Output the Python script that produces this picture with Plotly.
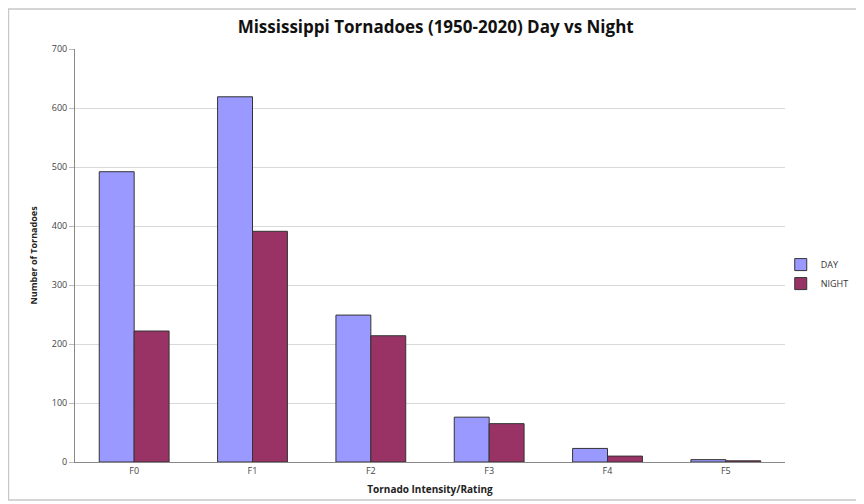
import plotly.graph_objects as go

categories = ["F0", "F1", "F2", "F3", "F4", "F5"]
day_values = [492, 619, 249, 76, 23, 4]
night_values = [222, 391, 214, 65, 10, 2]

fig = go.Figure()
fig.add_trace(go.Bar(name="DAY", x=categories, y=day_values,
                     marker=dict(color="#9999FF", line=dict(color="#333333", width=1))))
fig.add_trace(go.Bar(name="NIGHT", x=categories, y=night_values,
                     marker=dict(color="#993366", line=dict(color="#333333", width=1))))

fig.update_layout(
    width=864, height=504,
    barmode="group", bargap=0.41, bargroupgap=0,
    paper_bgcolor="white", plot_bgcolor="white",
    margin=dict(l=67, r=87, t=41, b=50),
    font=dict(family="Open Sans, Liberation Sans, sans-serif", color="#333333"),
    title=dict(text="<b>Mississippi Tornadoes (1950-2020) Day vs Night</b>",
               x=0.495, xanchor="center", y=0.962, yanchor="middle",
               font=dict(size=17, color="#111111")),
    legend=dict(x=0.994, y=0.455, xanchor="left", yanchor="middle",
                font=dict(size=9, color="#333333"), itemwidth=30,
                tracegroupgap=0, bgcolor="rgba(0,0,0,0)"),
    xaxis=dict(showline=True, linecolor="#888888", linewidth=1,
               tickfont=dict(size=9, color="#444444"), ticks="",
               title=dict(text="<b>Tornado Intensity/Rating</b>",
                          font=dict(size=10, color="#222222"), standoff=10)),
    yaxis=dict(range=[0, 700], dtick=100, showline=True, linecolor="#888888",
               linewidth=1, gridcolor="#d9d9d9", ticks="outside", ticklen=5,
               tickcolor="#bbbbbb", tickfont=dict(size=9, color="#444444"),
               zeroline=False,
               title=dict(text="<b>Number of Tornadoes</b>",
                          font=dict(size=9, color="#222222"), standoff=12)),
    shapes=[dict(type="rect", xref="paper", yref="paper",
                 x0=-0.0937, x1=1.1028, y0=-0.092, y1=1.097,
                 line=dict(color="#c8c8c8", width=1.5))],
)

fig.write_html("out.html")
